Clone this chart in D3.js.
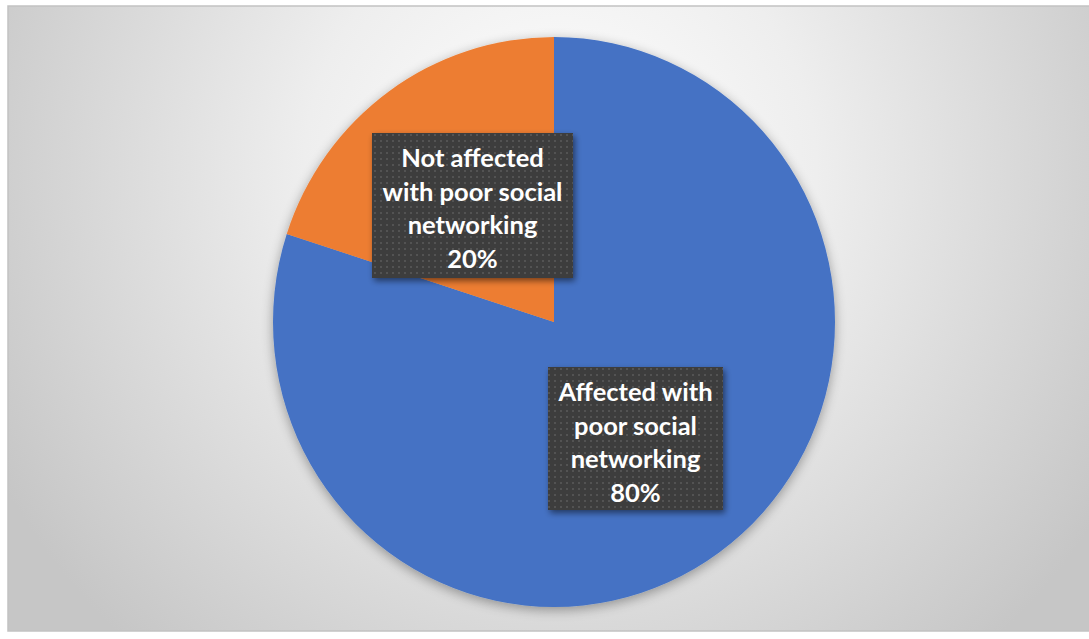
<!DOCTYPE html>
<html><head><meta charset="utf-8">
<script src="https://cdn.jsdelivr.net/npm/d3@7"></script>
<style>html,body{margin:0;padding:0;background:#fff;}svg{display:block;}</style>
</head><body>
<svg id="c" width="1089" height="639"></svg>
<script>
const categories = ["Affected with poor social networking", "Not affected with poor social networking"];
const values = [80, 20];
const labelLines = [["Affected with","poor social","networking","80%"],["Not affected","with poor social","networking","20%"]];
const colors = ["#4472C4", "#ED7D31"];

const svg = d3.select("#c");
const defs = svg.append("defs");
const bg = defs.append("radialGradient").attr("id","bg").attr("gradientUnits","userSpaceOnUse")
  .attr("cx",560).attr("cy",170).attr("r",640);
bg.append("stop").attr("offset","0%").attr("stop-color","#ffffff");
bg.append("stop").attr("offset","40%").attr("stop-color","#eeeeee");
bg.append("stop").attr("offset","100%").attr("stop-color","#c6c6c6");

const sh = defs.append("filter").attr("id","sh").attr("x","-20%").attr("y","-20%").attr("width","140%").attr("height","140%");
sh.append("feGaussianBlur").attr("in","SourceAlpha").attr("stdDeviation",6).attr("result","b");
sh.append("feOffset").attr("in","b").attr("dx",0).attr("dy",3).attr("result","o");
sh.append("feComponentTransfer").attr("in","o").attr("result","o2").append("feFuncA").attr("type","linear").attr("slope",0.35);
const m = sh.append("feMerge"); m.append("feMergeNode").attr("in","o2"); m.append("feMergeNode").attr("in","SourceGraphic");

const bs = defs.append("filter").attr("id","bs").attr("x","-20%").attr("y","-20%").attr("width","140%").attr("height","140%");
bs.append("feGaussianBlur").attr("in","SourceAlpha").attr("stdDeviation",3).attr("result","b");
bs.append("feOffset").attr("in","b").attr("dx",2).attr("dy",3).attr("result","o");
bs.append("feComponentTransfer").attr("in","o").attr("result","o2").append("feFuncA").attr("type","linear").attr("slope",0.5);
const m2 = bs.append("feMerge"); m2.append("feMergeNode").attr("in","o2"); m2.append("feMergeNode").attr("in","SourceGraphic");

const pat = defs.append("pattern").attr("id","dots").attr("patternUnits","userSpaceOnUse").attr("width",6).attr("height",6);
pat.append("rect").attr("width",6).attr("height",6).attr("fill","#3d3d3d");
pat.append("circle").attr("cx",3).attr("cy",3).attr("r",0.9).attr("fill","#5c5c5c");

svg.append("rect").attr("x",8).attr("y",6).attr("width",1085).attr("height",625)
  .attr("fill","url(#bg)").attr("stroke","#c2c2c2").attr("stroke-width",1.5);

const cx = 554, cy = 322, ry = 285, rx = 281;
const pie = d3.pie().sort(null).value(d => d)(values);
const arc = d3.arc().innerRadius(0).outerRadius(ry);
const g = svg.append("g").attr("transform",`translate(${cx},${cy}) scale(${rx/ry},1)`).attr("filter","url(#sh)");
g.selectAll("path").data(pie).join("path").attr("d",arc).attr("fill",(d,i)=>colors[i]);

const boxes = [{x:548,y:367,w:175,h:143},{x:372,y:133,w:201,h:145}];
const lg = svg.append("g");
boxes.forEach((b,i)=>{
  lg.append("rect").attr("x",b.x).attr("y",b.y).attr("width",b.w).attr("height",b.h)
    .attr("fill","url(#dots)").attr("filter","url(#bs)");
  const t = lg.append("text").attr("text-anchor","middle").attr("fill","#fff")
    .attr("font-family","Lato, 'Open Sans', sans-serif").attr("font-weight","bold").attr("font-size",25.5);
  labelLines[i].forEach((s,j)=>{
    t.append("tspan").attr("x",b.x+b.w/2).attr("y",b.y+34+j*33.5).text(s);
  });
});
</script>
</body></html>
